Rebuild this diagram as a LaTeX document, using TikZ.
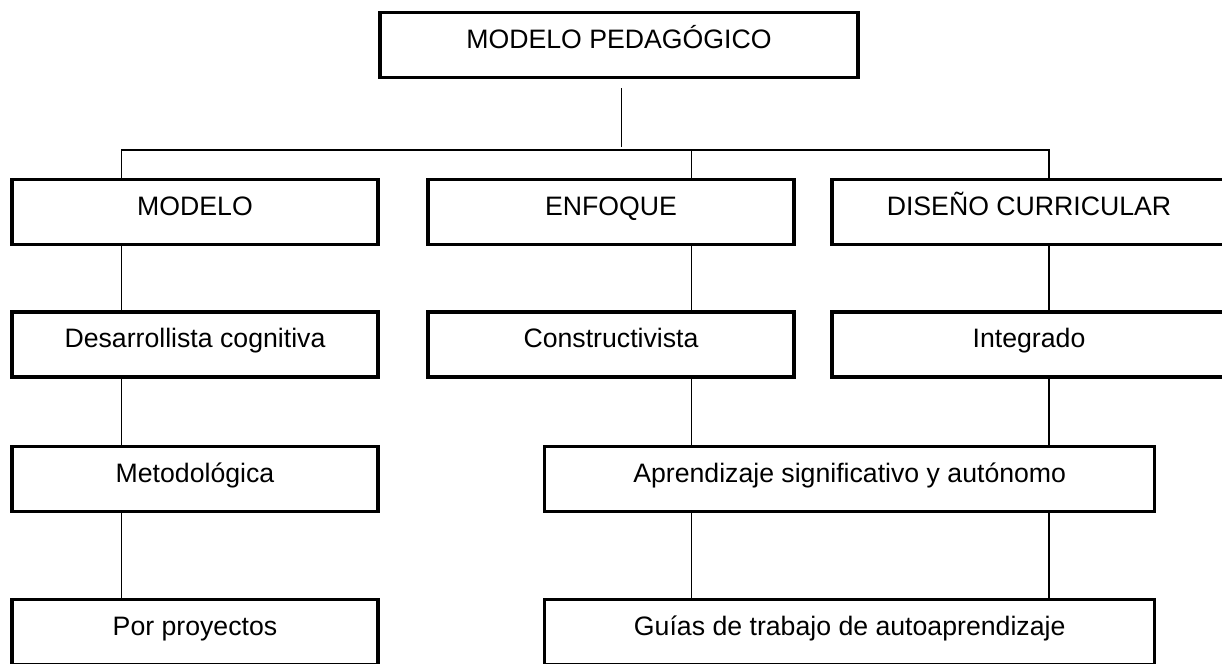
\documentclass[tikz,border=0pt]{standalone}
\usepackage{fontspec}
\setmainfont{Liberation Sans}
\begin{document}
\begin{tikzpicture}[x=0.75pt,y=-0.75pt,
  box/.style={draw=black, line width=2.6pt, rectangle, inner sep=0pt,
    text height=27pt, text depth=22pt, minimum width=274.5pt,
    font=\fontsize{20}{24}\selectfont},
  conn/.style={draw=black, line width=1pt}]
\path[use as bounding box] (0,0) rectangle (1222,664);
\fill[white] (0,0) rectangle (1222,664);
\begin{scope}
\clip (0,0) rectangle (1222,664);
\node[box, minimum width=358.5pt] (top) at (619,45) {MODELO PEDAGÓGICO};
\node[box] (m1) at (195,212) {MODELO};
\node[box] (e1) at (611,212) {ENFOQUE};
\node[box, minimum width=295.5pt] (d1) at (1029,212) {DISEÑO CURRICULAR};
\node[box] (m2) at (195,344.5) {Desarrollista cognitiva};
\node[box] (e2) at (611,344.5) {Constructivista};
\node[box, minimum width=295.5pt] (d2) at (1029,344.5) {Integrado};
\node[box] (m3) at (195,479) {Metodológica};
\node[box, minimum width=457.5pt] (a3) at (849.7,479) {Aprendizaje significativo y autónomo};
\node[box] (m4) at (195,632) {Por proyectos};
\node[box, minimum width=457.5pt] (g4) at (849.7,632) {Guías de trabajo de autoaprendizaje};
\end{scope}
\coordinate (xa) at (121.6,0);
\coordinate (xb) at (691.7,0);
\coordinate (xc) at (1049,0);
\coordinate (bar) at (621.5,150);
% trunk
\draw[conn] ([shift={(0,9)}]bar |- top.south) -- ([shift={(0,-3)}]bar);
% bar with drops
\draw[conn] (xa |- m1.north) -- (xa |- bar) -- (xc |- bar) -- (xc |- d1.north);
\draw[conn] (xb |- bar) -- (xb |- e1.north);
% level 1 -> 2
\draw[conn] (xa |- m1.south) -- (xa |- m2.north);
\draw[conn] (xb |- e1.south) -- (xb |- e2.north);
\draw[conn] (xc |- d1.south) -- (xc |- d2.north);
% level 2 -> 3
\draw[conn] (xa |- m2.south) -- (xa |- m3.north);
\draw[conn] (xb |- e2.south) -- (xb |- a3.north);
\draw[conn] (xc |- d2.south) -- (xc |- a3.north);
% level 3 -> 4
\draw[conn] (xa |- m3.south) -- (xa |- m4.north);
\draw[conn] (xb |- a3.south) -- (xb |- g4.north);
\draw[conn] (xc |- a3.south) -- (xc |- g4.north);
\end{tikzpicture}
\end{document}
